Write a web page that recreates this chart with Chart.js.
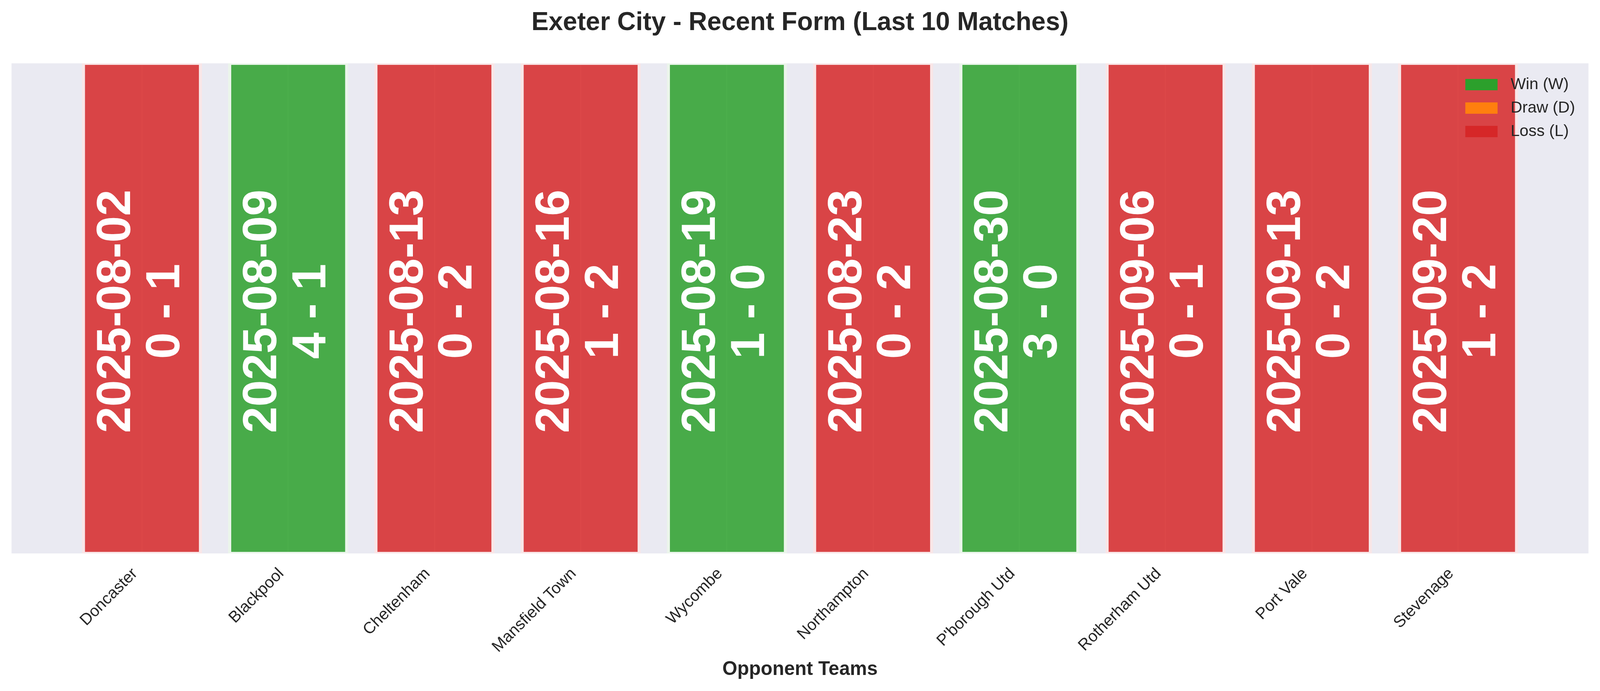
<!DOCTYPE html>
<html>
<head>
<meta charset="utf-8">
<script src="https://cdn.jsdelivr.net/npm/chart.js@4.4.1/dist/chart.umd.min.js"></script>
<style>
  html, body { margin: 0; padding: 0; background: #ffffff; overflow: hidden; }
  #wrap { position: relative; width: 100vw; height: 100vh; }
  #form-chart { display: block; }
</style>
</head>
<body>
<div id="wrap"><canvas id="form-chart"></canvas></div>
<script>
// Last 10 matches, oldest first
const opponents = ['Doncaster', 'Blackpool', 'Cheltenham', 'Mansfield Town', 'Wycombe',
                   'Northampton', "P'borough Utd", 'Rotherham Utd', 'Port Vale', 'Stevenage'];
const matchDates = ['2025-08-02', '2025-08-09', '2025-08-13', '2025-08-16', '2025-08-19',
                    '2025-08-23', '2025-08-30', '2025-09-06', '2025-09-13', '2025-09-20'];
const scores = ['0 - 1', '4 - 1', '0 - 2', '1 - 2', '1 - 0', '0 - 2', '3 - 0', '0 - 1', '0 - 2', '1 - 2'];
const results = ['L', 'W', 'L', 'L', 'W', 'L', 'W', 'L', 'L', 'L'];
const barHeight = [1, 1, 1, 1, 1, 1, 1, 1, 1, 1];

const resultKeys = ['W', 'D', 'L'];
const resultNames = ['Win (W)', 'Draw (D)', 'Loss (L)'];
const resultColors = ['#2ca02c', '#ff7f0e', '#d62728'];
const barFills = ['rgba(44,160,44,0.85)', 'rgba(255,127,14,0.85)', 'rgba(214,39,40,0.85)'];
const barEdges = ['#ebf5eb', '#fcefe4', '#f9e6e7'];

const FONT = "'Liberation Sans', Arial, Helvetica, sans-serif";
const TEXT_DARK = '#262626';
const labelY = 0.494; // where the date/score text sits on the hidden y axis

// sizes below are tuned for a 4170x1768 page, scale them to the real viewport
const k = window.innerWidth / 4170;
const kh = window.innerHeight / 1768;
const px = (v) => v * k;
const py = (v) => v * kh;

// one dataset per result type, bars overlap at full width (grouped: false)
const datasets = resultKeys.map((key, r) => ({
    label: resultNames[r],
    data: opponents.map((_, i) => ({ x: i, y: barHeight[i] })).filter((_, i) => results[i] === key),
    backgroundColor: barFills[r],
    borderColor: barEdges[r],
    borderWidth: { left: px(8), right: px(8), top: py(4), bottom: py(4) },
    borderSkipped: false,
    grouped: false,
    categoryPercentage: 1.0,
    barPercentage: 0.821
}));

// plot background like seaborn darkgrid
const plotBackground = {
    id: 'plotBackground',
    beforeDraw(chart) {
        const { ctx, chartArea: a } = chart;
        ctx.save();
        ctx.fillStyle = '#ffffff';
        ctx.fillRect(0, 0, chart.width, chart.height);
        ctx.fillStyle = '#eaeaf2';
        ctx.fillRect(a.left, a.top, a.right - a.left, a.bottom - a.top);
        ctx.restore();
    }
};

// rotated date + score inside each bar
const matchText = {
    id: 'matchText',
    afterDatasetsDraw(chart) {
        const { ctx } = chart;
        const xs = chart.scales.x, ys = chart.scales.y;
        ctx.save();
        ctx.fillStyle = '#ffffff';
        ctx.font = 'bold ' + px(124) + 'px ' + FONT;
        ctx.textAlign = 'center';
        ctx.textBaseline = 'alphabetic';
        opponents.forEach((_, i) => {
            ctx.save();
            ctx.translate(xs.getPixelForValue(i), ys.getPixelForValue(labelY));
            ctx.rotate(-Math.PI / 2);
            ctx.fillText(matchDates[i], 0, px(-31));
            ctx.fillText(scores[i], 0, px(97));
            ctx.restore();
        });
        ctx.restore();
    }
};

// legend drawn inside the plot, top right, no frame
const innerLegend = {
    id: 'innerLegend',
    afterDraw(chart) {
        const { ctx, chartArea: a } = chart;
        const boxLeft = a.right - px(321), top = a.top + py(40);
        ctx.save();
        ctx.font = px(42) + 'px ' + FONT;
        ctx.textBaseline = 'middle';
        ctx.textAlign = 'left';
        resultNames.forEach((name, r) => {
            const y = top + r * py(60);
            ctx.fillStyle = resultColors[r];
            ctx.fillRect(boxLeft, y, px(84), py(29));
            ctx.fillStyle = TEXT_DARK;
            ctx.fillText(name, boxLeft + px(118), y + py(15));
        });
        ctx.restore();
    }
};

new Chart(document.getElementById('form-chart').getContext('2d'), {
    type: 'bar',
    data: { datasets },
    options: {
        responsive: true,
        maintainAspectRatio: false,
        animation: false,
        layout: { padding: { left: px(30), right: px(30), top: 0, bottom: 0 } },
        plugins: {
            legend: { display: false },
            tooltip: { enabled: false },
            title: {
                display: true,
                text: 'Exeter City - Recent Form (Last 10 Matches)',
                color: TEXT_DARK,
                font: { family: FONT, size: px(67), weight: 'bold' },
                padding: { top: py(19), bottom: py(162 - 19) - px(67) * 1.2 }
            }
        },
        scales: {
            x: {
                type: 'linear',
                offset: false,
                min: -0.892,
                max: 9.892,
                afterBuildTicks: (scale) => { scale.ticks = opponents.map((_, i) => ({ value: i })); },
                afterFit: (scale) => { scale.height = py(352); },
                grid: { color: '#ffffff', lineWidth: px(3), drawTicks: false, offset: false },
                border: { display: false },
                ticks: {
                    autoSkip: false,
                    minRotation: 45,
                    maxRotation: 45,
                    padding: py(28),
                    labelOffset: px(-18),
                    color: TEXT_DARK,
                    font: { family: FONT, size: px(42) },
                    callback: (value) => opponents[value]
                },
                title: {
                    display: true,
                    text: 'Opponent Teams',
                    color: TEXT_DARK,
                    font: { family: FONT, size: px(50), weight: 'bold' },
                    padding: { top: 0, bottom: py(55) - px(30) }
                }
            },
            y: {
                min: 0,
                max: 1,
                display: false
            }
        }
    },
    plugins: [plotBackground, matchText, innerLegend]
});
</script>
</body>
</html>
